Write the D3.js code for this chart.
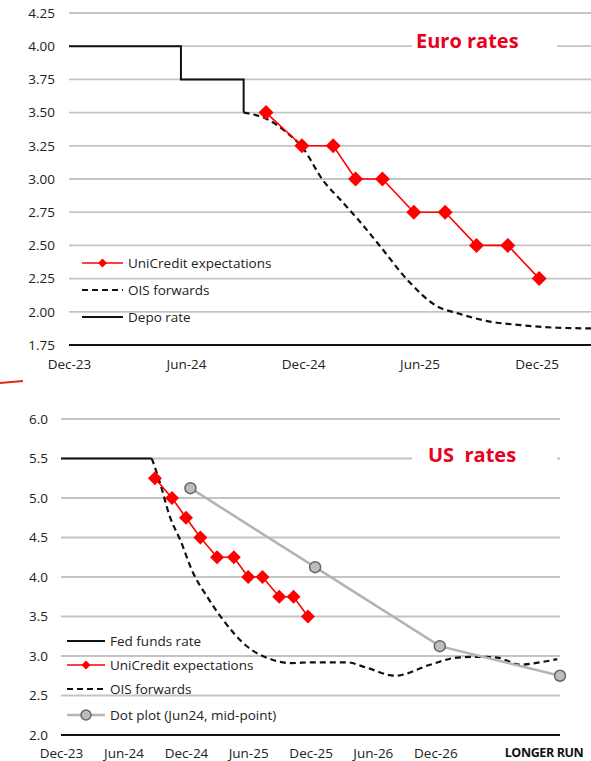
<!DOCTYPE html>
<html><head><meta charset="utf-8">
<script src="https://cdn.jsdelivr.net/npm/d3@7"></script>
<style>
html,body{margin:0;padding:0;background:#fff;}
svg{display:block;}
text{font-family:"Open Sans","DejaVu Sans",sans-serif;}
</style></head>
<body>
<svg id="c" width="591" height="761"></svg>
<script>
// ---------- Euro rates data ----------
const euroYTicks = [1.75, 2.00, 2.25, 2.50, 2.75, 3.00, 3.25, 3.50, 3.75, 4.00, 4.25];
const euroXTicks = ["2023-12-14", "2024-06-14", "2024-12-14", "2025-06-14", "2025-12-14"];
const depoDates = ["2023-12-14", "2024-06-06", "2024-09-12"];
const depoValues = [4.00, 3.75, 3.50];
const euroUcDates = ["2024-10-17", "2024-12-12", "2025-01-30", "2025-03-06", "2025-04-17", "2025-06-05", "2025-07-24", "2025-09-11", "2025-10-30", "2025-12-18"];
const euroUcValues = [3.50, 3.25, 3.25, 3.00, 3.00, 2.75, 2.75, 2.50, 2.50, 2.25];
const euroOisDates = ["2024-09-12", "2024-10-19", "2024-11-16", "2024-12-14", "2025-01-14", "2025-02-11", "2025-03-09", "2025-04-14", "2025-05-26", "2025-07-12", "2025-08-12", "2025-09-28", "2025-11-19", "2026-01-15", "2026-03-09"];
const euroOisValues = [3.50, 3.45, 3.36, 3.23, 2.99, 2.84, 2.70, 2.49, 2.24, 2.04, 1.99, 1.93, 1.90, 1.88, 1.875];

// ---------- US rates data ----------
const usYTicks = [2.0, 2.5, 3.0, 3.5, 4.0, 4.5, 5.0, 5.5, 6.0];
const usXTicks = ["2023-12-18", "2024-06-18", "2024-12-18", "2025-06-18", "2025-12-18", "2026-06-18", "2026-12-18"];
const usLongerRunLabel = "LONGER RUN";
const fedDates = ["2023-12-18", "2024-09-09"];
const fedValues = [5.50, 5.50];
const usUcDates = ["2024-09-18", "2024-11-07", "2024-12-18", "2025-01-29", "2025-03-19", "2025-05-07", "2025-06-18", "2025-07-30", "2025-09-17", "2025-10-29", "2025-12-10"];
const usUcValues = [5.25, 5.00, 4.75, 4.50, 4.25, 4.25, 4.00, 4.00, 3.75, 3.75, 3.50];
const usOisDates = ["2024-09-09", "2024-10-03", "2024-11-01", "2024-12-01", "2025-01-08", "2025-02-18", "2025-04-05", "2025-06-15", "2025-08-30", "2025-10-19", "2025-12-26", "2026-04-03", "2026-06-01", "2026-08-22", "2026-12-03", "2027-02-20", "2027-04-27", "2027-06-17", "2027-08-23", "2027-10-21", "2027-12-10"];
const usOisValues = [5.50, 5.19, 4.76, 4.47, 4.05, 3.75, 3.46, 3.12, 2.95, 2.91, 2.92, 2.92, 2.85, 2.75, 2.89, 2.98, 2.99, 2.98, 2.89, 2.92, 2.96];
const dotDates = ["2024-12-31", "2025-12-31", "2026-12-31", "2027-12-18"];
const dotValues = [5.125, 4.125, 3.125, 2.75];

const parse = d3.timeParse("%Y-%m-%d");
const fmt = d3.timeFormat("%b-%y");
const svg = d3.select("#c");

const RED = "#ff0000", TITLE_RED = "#e8001c", GRID = "#c4c4c4", TXT = "#222";
const FS = 13.5;

function diamond(r){ return `M0,${-r}L${r},0L0,${r}L${-r},0Z`; }

function drawPanel(cfg){
  const g = svg.append("g");
  const x = d3.scaleTime().domain(cfg.xDomain.map(parse)).range(cfg.xRange);
  const y = d3.scaleLinear().domain(cfg.yDomain).range(cfg.yRange);
  g.selectAll(".grid").data(cfg.yTicks.slice(1)).join("line")
    .attr("x1", cfg.xRange[0]).attr("x2", cfg.xRange[1])
    .attr("y1", d => y(d)).attr("y2", d => y(d))
    .attr("stroke", GRID).attr("stroke-width", 1.8);
  const yAxis = d3.axisLeft(y).tickValues(cfg.yTicks).tickFormat(d3.format(cfg.yFmt)).tickSize(0).tickPadding(0);
  const ya = g.append("g").attr("transform", `translate(${cfg.yLabelX},0)`).call(yAxis);
  ya.select(".domain").remove();
  ya.selectAll("text").attr("font-size", FS).attr("fill", TXT).attr("font-family", '"Open Sans",sans-serif');
  const xAxis = d3.axisBottom(x).tickValues(cfg.xTicks.map(parse)).tickFormat(fmt).tickSize(0).tickPadding(0);
  const xa = g.append("g").attr("transform", `translate(0,${cfg.xLabelY})`).call(xAxis);
  xa.select(".domain").remove();
  xa.selectAll("text").attr("font-size", FS).attr("fill", TXT).attr("font-family", '"Open Sans",sans-serif').attr("y", 0).attr("dy", "0.35em");
  g.append("line").attr("x1", cfg.xRange[0]).attr("x2", cfg.xRange[1])
    .attr("y1", y(cfg.yDomain[0])).attr("y2", y(cfg.yDomain[0]))
    .attr("stroke", "#111").attr("stroke-width", 2);
  g.append("rect").attr("x", cfg.titleBox[0]).attr("y", cfg.titleBox[1]).attr("width", cfg.titleBox[2]).attr("height", cfg.titleBox[3]).attr("fill", "#fff");
  g.append("text").attr("x", cfg.titlePos[0]).attr("y", cfg.titlePos[1]).text(cfg.title)
    .attr("fill", TITLE_RED).attr("font-size", 20).attr("font-weight", "bold")
    .attr("font-family", '"Liberation Sans",Arial,sans-serif').style("white-space", "pre");
  return {g, x, y};
}

function pts(dates, vals){ return dates.map((d,i)=>({d: parse(d), v: vals[i]})); }

// ================= EURO =================
{
  const {g, x, y} = drawPanel({
    xDomain: ["2023-12-14", "2026-03-09"], xRange: [69, 591],
    yDomain: [1.75, 4.25], yRange: [345, 13], yTicks: euroYTicks, yFmt: ".2f",
    xTicks: euroXTicks, yLabelX: 55, xLabelY: 364,
    title: "Euro rates", titlePos: [416, 48], titleBox: [412, 28, 145, 32]
  });
  const step = d3.line().x(d=>x(d.d)).y(d=>y(d.v)).curve(d3.curveStepAfter);
  g.append("path").attr("d", step(pts(depoDates, depoValues)))
    .attr("fill","none").attr("stroke","#111").attr("stroke-width",2);
  const l2 = d3.line().x(d=>x(d.d)).y(d=>y(d.v)).curve(d3.curveMonotoneX);
  g.append("path").attr("d", l2(pts(euroOisDates, euroOisValues)))
    .attr("fill","none").attr("stroke","#111").attr("stroke-width",2.2).attr("stroke-dasharray","6,4");
  const l3 = d3.line().x(d=>x(d.d)).y(d=>y(d.v));
  g.append("path").attr("d", l3(pts(euroUcDates, euroUcValues)))
    .attr("fill","none").attr("stroke",RED).attr("stroke-width",1.6);
  g.selectAll(".m").data(pts(euroUcDates, euroUcValues)).join("path")
    .attr("d", diamond(7.5)).attr("transform", d=>`translate(${x(d.d)},${y(d.v)})`).attr("fill", RED);
  const lg = g.append("g");
  lg.append("line").attr("x1",82).attr("x2",123).attr("y1",263).attr("y2",263).attr("stroke",RED).attr("stroke-width",1.5);
  lg.append("path").attr("d",diamond(4.5)).attr("transform","translate(102.5,263)").attr("fill",RED);
  lg.append("line").attr("x1",82).attr("x2",123).attr("y1",290).attr("y2",290).attr("stroke","#111").attr("stroke-width",2.2).attr("stroke-dasharray","6,4");
  lg.append("line").attr("x1",82).attr("x2",123).attr("y1",317).attr("y2",317).attr("stroke","#111").attr("stroke-width",2);
  [["UniCredit expectations",263],["OIS forwards",290],["Depo rate",317]].forEach(([t,yy])=>{
    lg.append("text").attr("x",128).attr("y",yy).attr("dy","0.35em").attr("font-size",FS).attr("fill",TXT).text(t);
  });
}

// stray red mark at left
svg.append("path").attr("d","M0,383L23,381").attr("stroke","#e3261c").attr("stroke-width",2.2).attr("fill","none");

// ================= US =================
{
  const {g, x, y} = drawPanel({
    xDomain: ["2023-12-18", "2027-12-18"], xRange: [61, 560],
    yDomain: [2.0, 6.0], yRange: [735, 419], yTicks: usYTicks, yFmt: ".1f",
    xTicks: usXTicks, yLabelX: 48, xLabelY: 753,
    title: "US  rates", titlePos: [428, 462], titleBox: [412, 442, 145, 32]
  });
  g.append("text").attr("x", x(parse(dotDates[3])) - 16).attr("y", 753).attr("dy","0.35em")
    .attr("text-anchor","middle").attr("font-size",12.5).attr("font-weight","bold")
    .attr("font-family",'"Liberation Sans",Arial,sans-serif').attr("letter-spacing","-0.4").attr("fill","#111").text(usLongerRunLabel);
  const line = d3.line().x(d=>x(d.d)).y(d=>y(d.v));
  g.append("path").attr("d", line(pts(fedDates, fedValues)))
    .attr("fill","none").attr("stroke","#111").attr("stroke-width",2);
  const l2 = d3.line().x(d=>x(d.d)).y(d=>y(d.v)).curve(d3.curveMonotoneX);
  g.append("path").attr("d", l2(pts(usOisDates, usOisValues)))
    .attr("fill","none").attr("stroke","#111").attr("stroke-width",2.2).attr("stroke-dasharray","6,4");
  g.append("path").attr("d", line(pts(dotDates, dotValues)))
    .attr("fill","none").attr("stroke","#b3b3b3").attr("stroke-width",2.5);
  g.selectAll(".dot").data(pts(dotDates, dotValues)).join("circle")
    .attr("cx", d=>x(d.d)).attr("cy", d=>y(d.v)).attr("r", 5.5)
    .attr("fill","#bdbdbd").attr("stroke","#666").attr("stroke-width",1.5);
  g.append("path").attr("d", line(pts(usUcDates, usUcValues)))
    .attr("fill","none").attr("stroke",RED).attr("stroke-width",1.6);
  g.selectAll(".m").data(pts(usUcDates, usUcValues)).join("path")
    .attr("d", diamond(7)).attr("transform", d=>`translate(${x(d.d)},${y(d.v)})`).attr("fill", RED);
  const lg = g.append("g");
  lg.append("line").attr("x1",67).attr("x2",105).attr("y1",641).attr("y2",641).attr("stroke","#111").attr("stroke-width",2);
  lg.append("line").attr("x1",67).attr("x2",105).attr("y1",665).attr("y2",665).attr("stroke",RED).attr("stroke-width",1.5);
  lg.append("path").attr("d",diamond(4.5)).attr("transform","translate(86,665)").attr("fill",RED);
  lg.append("line").attr("x1",67).attr("x2",105).attr("y1",689).attr("y2",689).attr("stroke","#111").attr("stroke-width",2.2).attr("stroke-dasharray","6,4");
  lg.append("line").attr("x1",67).attr("x2",105).attr("y1",715).attr("y2",715).attr("stroke","#b3b3b3").attr("stroke-width",2.5);
  lg.append("circle").attr("cx",86).attr("cy",715).attr("r",5).attr("fill","#bdbdbd").attr("stroke","#666").attr("stroke-width",1.5);
  [["Fed funds rate",641],["UniCredit expectations",665],["OIS forwards",689],["Dot plot (Jun24, mid-point)",715]].forEach(([t,yy])=>{
    lg.append("text").attr("x",110).attr("y",yy).attr("dy","0.35em").attr("font-size",FS).attr("fill",TXT).text(t);
  });
}
</script>
</body></html>
